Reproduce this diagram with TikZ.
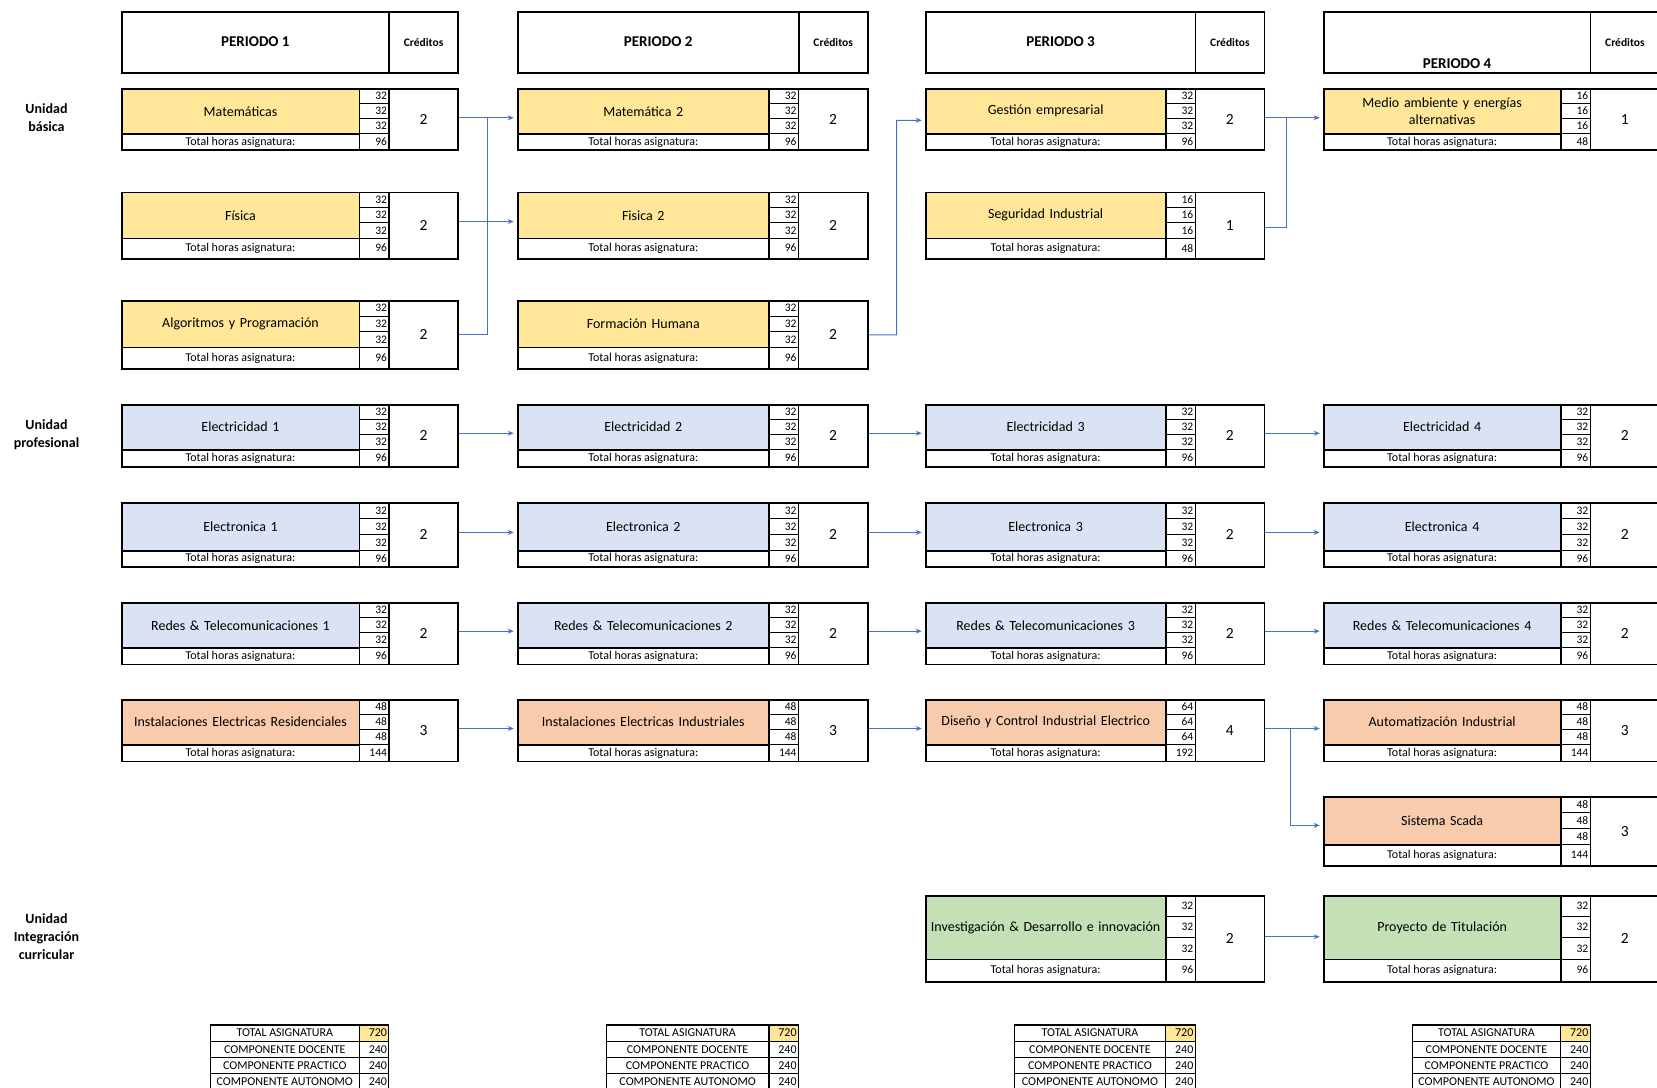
\documentclass[tikz,border=0pt]{standalone}
\usepackage{fontspec}
\setmainfont{Carlito}
\usetikzlibrary{arrows.meta,calc}
\definecolor{cyel}{HTML}{FFE699}
\definecolor{cblu}{HTML}{DAE3F3}
\definecolor{cora}{HTML}{F8CBAD}
\definecolor{cgrn}{HTML}{C5E0B4}
\definecolor{abl}{HTML}{4472C4}
% columns
\def\colXA{120.7}\def\colWA{238}
\def\colXB{516.7}\def\colWB{251.6}
\def\colXC{924.7}\def\colWC{240.3}
\def\colXD{1322.7}\def\colWD{237.3}
% rows: top, middle (title/total split), bottom
\def\rowTa{87.7}\def\rowMa{133.2}\def\rowBa{149}
\def\rowTb{191.5}\def\rowMb{237.5}\def\rowBb{257.8}
\def\rowTc{300}\def\rowMc{346.6}\def\rowBc{367.7}
\def\rowTd{403.7}\def\rowMd{449}\def\rowBd{466}
\def\rowTe{502}\def\rowMe{550}\def\rowBe{566}
\def\rowTf{602}\def\rowMf{647}\def\rowBf{663.5}
\def\rowTg{698.7}\def\rowMg{744}\def\rowBg{760.5}
\def\rowTh{796}\def\rowMh{844}\def\rowBh{865}
\def\rowTi{895}\def\rowMi{958.5}\def\rowBi{980.7}
\tikzset{
  tcell/.style={draw, line width=1.6pt, inner sep=0pt, align=center, font=\fontsize{14}{17}\selectfont},
  ncell/.style={draw, line width=1pt, inner sep=0pt, minimum width=29.5pt, text width=26pt, align=right, font=\fontsize{11.5}{13}\selectfont},
  lcell/.style={draw, line width=1.6pt, inner sep=0pt, font=\fontsize{12}{14}\selectfont},
  ccell/.style={draw, line width=1.6pt, inner sep=0pt, minimum width=69pt, font=\fontsize{15.5}{18}\selectfont},
  frame/.style={draw, line width=1.8pt, inner sep=0pt},
  hcell/.style={draw, line width=1.8pt, inner sep=0pt, font=\bfseries\fontsize{15}{18}\selectfont},
  hcred/.style={draw, line width=1.8pt, inner sep=0pt, minimum width=69pt, font=\bfseries\fontsize{11.5}{14}\selectfont},
  hlab/.style={inner sep=0pt, font=\bfseries\fontsize{15}{18}\selectfont},
  scell/.style={draw, line width=1.2pt, inner sep=0pt, minimum height=16.3pt, font=\fontsize{12}{14}\selectfont},
  snum/.style={draw, line width=1.2pt, inner sep=0pt, minimum height=16.3pt, minimum width=29.5pt, text width=26pt, align=right, font=\fontsize{12}{14}\selectfont},
  unit/.style={align=center, inner sep=0pt, font=\bfseries\fontsize{14}{18}\selectfont},
  arr/.style={draw=abl, line width=1pt, -{Stealth[length=6pt,width=5pt]}, shorten >=3pt},
  ln/.style={draw=abl, line width=1pt},
}
% #1 id, #2 column, #3 row, #4 title, #5 fill, #6 hours, #7 total, #8 credits
\newcommand{\course}[8]{%
  \pgfmathsetmacro{\qX}{\csname colX#2\endcsname}%
  \pgfmathsetmacro{\qW}{\csname colW#2\endcsname}%
  \pgfmathsetmacro{\qT}{\csname rowT#3\endcsname}%
  \pgfmathsetmacro{\qM}{\csname rowM#3\endcsname}%
  \pgfmathsetmacro{\qB}{\csname rowB#3\endcsname}%
  \pgfmathsetmacro{\qNX}{\qX+\qW}%
  \pgfmathsetmacro{\qCX}{\qNX+29.5}%
  \pgfmathsetmacro{\qFW}{\qW+29.5+69}%
  \pgfmathsetmacro{\qTH}{\qM-\qT}%
  \pgfmathsetmacro{\qLH}{\qB-\qM}%
  \pgfmathsetmacro{\qFH}{\qB-\qT}%
  \pgfmathsetmacro{\qRH}{\qTH/3}%
  \pgfmathsetmacro{\qTW}{\qW-6}%
  \pgfmathsetmacro{\qTb}{\qT+\qRH}%
  \pgfmathsetmacro{\qTc}{\qT+2*\qRH}%
  \node[tcell, fill=#5, minimum width=\qW pt, minimum height=\qTH pt, text width=\qTW pt, anchor=north west] (#1-t) at (\qX,\qT) {#4};
  \node[ncell, minimum height=\qRH pt, anchor=north west] (#1-n1) at (\qNX,\qT) {#6};
  \node[ncell, minimum height=\qRH pt, anchor=north west] (#1-n2) at (\qNX,\qTb) {#6};
  \node[ncell, minimum height=\qRH pt, anchor=north west] (#1-n3) at (\qNX,\qTc) {#6};
  \node[lcell, minimum width=\qW pt, minimum height=\qLH pt, anchor=north west] (#1-l) at (\qX,\qM) {Total horas asignatura:};
  \node[ncell, minimum height=\qLH pt, anchor=north west] (#1-s) at (\qNX,\qM) {#7};
  \node[ccell, minimum height=\qFH pt, anchor=north west] (#1-c) at (\qCX,\qT) {#8};
  \node[frame, minimum width=\qFW pt, minimum height=\qFH pt, anchor=north west] (#1) at (\qX,\qT) {};
}
% #1 id, #2 column, #3 label
\newcommand{\header}[3]{%
  \pgfmathsetmacro{\qX}{\csname colX#2\endcsname}%
  \pgfmathsetmacro{\qW}{\csname colW#2\endcsname+29.5}%
  \pgfmathsetmacro{\qCX}{\qX+\qW}%
  \node[hcell, minimum width=\qW pt, minimum height=61pt, anchor=north west] (#1) at (\qX,10.7) {#3};
  \node[hcred, minimum height=61pt, anchor=north west] (#1-c) at (\qCX,10.7) {Créditos};
}
% #1 id, #2 column
\newcommand{\summary}[2]{%
  \pgfmathsetmacro{\qX}{\csname colX#2\endcsname}%
  \pgfmathsetmacro{\qW}{\csname colW#2\endcsname}%
  \pgfmathsetmacro{\qL}{\qX+89}%
  \pgfmathsetmacro{\qLW}{\qW-89}%
  \pgfmathsetmacro{\qNX}{\qX+\qW}%
  \node[scell, minimum width=\qLW pt, anchor=north west] (#1-a) at (\qL,1024.3) {TOTAL ASIGNATURA};
  \node[snum, fill=cyel, anchor=north west] (#1-an) at (\qNX,1024.3) {720};
  \node[scell, minimum width=\qLW pt, anchor=north west] (#1-b) at (\qL,1040.6) {COMPONENTE DOCENTE};
  \node[snum, anchor=north west] (#1-bn) at (\qNX,1040.6) {240};
  \node[scell, minimum width=\qLW pt, anchor=north west] (#1-c) at (\qL,1056.9) {COMPONENTE PRACTICO};
  \node[snum, anchor=north west] (#1-cn) at (\qNX,1056.9) {240};
  \node[scell, minimum width=\qLW pt, anchor=north west] (#1-d) at (\qL,1073.2) {COMPONENTE AUTONOMO};
  \node[snum, anchor=north west] (#1-dn) at (\qNX,1073.2) {240};
}
\begin{document}
\begin{tikzpicture}[x=1pt,y=-1pt]
\useasboundingbox (0,0) rectangle (1657,1087);
\clip (0,0) rectangle (1657,1087);

% unit labels
\node[unit] (u1) at (46.5,118) {Unidad\\básica};
\node[unit] (u2) at (46.5,435) {Unidad\\profesional};
\node[unit] (u3) at (46.5,937) {Unidad\\Integración\\curricular};

% headers
\header{hA}{A}{PERIODO 1}
\header{hB}{B}{PERIODO 2}
\header{hC}{C}{PERIODO 3}
\header{hD}{D}{}
\node[hlab, anchor=base] (hD-l) at ($(hD.south)+(0,-5.5)$) {PERIODO 4};

% period 1
\course{mat}{A}{a}{Matemáticas}{cyel}{32}{96}{2}
\course{fis}{A}{b}{Física}{cyel}{32}{96}{2}
\course{alg}{A}{c}{Algoritmos y Programación}{cyel}{32}{96}{2}
\course{ea}{A}{d}{Electricidad 1}{cblu}{32}{96}{2}
\course{na}{A}{e}{Electronica 1}{cblu}{32}{96}{2}
\course{ra}{A}{f}{Redes \& Telecomunicaciones 1}{cblu}{32}{96}{2}
\course{ia}{A}{g}{Instalaciones Electricas Residenciales}{cora}{48}{144}{3}
% period 2
\course{mat2}{B}{a}{Matemática 2}{cyel}{32}{96}{2}
\course{fis2}{B}{b}{Fisica 2}{cyel}{32}{96}{2}
\course{fh}{B}{c}{Formación Humana}{cyel}{32}{96}{2}
\course{eb}{B}{d}{Electricidad 2}{cblu}{32}{96}{2}
\course{nb}{B}{e}{Electronica 2}{cblu}{32}{96}{2}
\course{rb}{B}{f}{Redes \& Telecomunicaciones 2}{cblu}{32}{96}{2}
\course{ib}{B}{g}{Instalaciones Electricas Industriales}{cora}{48}{144}{3}
% period 3
\course{ges}{C}{a}{Gestión empresarial}{cyel}{32}{96}{2}
\course{seg}{C}{b}{Seguridad Industrial}{cyel}{16}{48}{1}
\course{ec}{C}{d}{Electricidad 3}{cblu}{32}{96}{2}
\course{nc}{C}{e}{Electronica 3}{cblu}{32}{96}{2}
\course{rc}{C}{f}{Redes \& Telecomunicaciones 3}{cblu}{32}{96}{2}
\course{dis}{C}{g}{Diseño y Control Industrial Electrico}{cora}{64}{192}{4}
\course{inv}{C}{i}{Investigación \& Desarrollo e innovación}{cgrn}{32}{96}{2}
% period 4
\course{med}{D}{a}{Medio ambiente y energías\\alternativas}{cyel}{16}{48}{1}
\course{ed}{D}{d}{Electricidad 4}{cblu}{32}{96}{2}
\course{nd}{D}{e}{Electronica 4}{cblu}{32}{96}{2}
\course{rd}{D}{f}{Redes \& Telecomunicaciones 4}{cblu}{32}{96}{2}
\course{aut}{D}{g}{Automatización Industrial}{cora}{48}{144}{3}
\course{sca}{D}{h}{Sistema Scada}{cora}{48}{144}{3}
\course{pro}{D}{i}{Proyecto de Titulación}{cgrn}{32}{96}{2}

% summary tables
\summary{sA}{A}
\summary{sB}{B}
\summary{sC}{C}
\summary{sD}{D}

% connectors
\coordinate (j1) at ($(mat.east)!0.5!(mat2.west)$);
\coordinate (j2) at ($(mat2.east)!0.5!(ges.west)$);
\coordinate (j3) at ($(ges.east)!0.37!(med.west)$);
\coordinate (j4) at ($(dis.east)!0.44!(aut.west)$);
\draw[arr] ([yshift=1.5pt]mat.east) -- ([yshift=1.5pt]mat2.west);
\draw[arr] ([yshift=4pt]fis.east) -- ([yshift=4pt]fis2.west);
\draw[ln] (alg.east) -| ([yshift=1.5pt]j1);
\draw[arr] (fh.east) -| ([yshift=-1pt]j2) -- ([yshift=-1pt]ges.west);
\draw[arr] ([yshift=1.5pt]ges.east) -- ([yshift=1.5pt]med.west);
\draw[ln] ([yshift=-2pt]seg.east) -| ([yshift=1.5pt]j3);
\draw[arr] ([yshift=2.5pt]ea.east) -- ([yshift=2.5pt]eb.west);
\draw[arr] ([yshift=2.5pt]eb.east) -- ([yshift=2.5pt]ec.west);
\draw[arr] ([yshift=2.5pt]ec.east) -- ([yshift=2.5pt]ed.west);
\draw[arr] ([yshift=2.5pt]na.east) -- ([yshift=2.5pt]nb.west);
\draw[arr] ([yshift=2.5pt]nb.east) -- ([yshift=2.5pt]nc.west);
\draw[arr] ([yshift=2.5pt]nc.east) -- ([yshift=2.5pt]nd.west);
\draw[arr] ([yshift=2.5pt]ra.east) -- ([yshift=2.5pt]rb.west);
\draw[arr] ([yshift=2.5pt]rb.east) -- ([yshift=2.5pt]rc.west);
\draw[arr] ([yshift=2.5pt]rc.east) -- ([yshift=2.5pt]rd.west);
\draw[arr] ([yshift=2pt]ia.east) -- ([yshift=2pt]ib.west);
\draw[arr] ([yshift=2pt]ib.east) -- ([yshift=2pt]dis.west);
\draw[arr] ([yshift=2pt]dis.east) -- ([yshift=2pt]aut.west);
\draw[arr] ([yshift=2pt]j4) |- ([yshift=6pt]sca.west);
\draw[arr] ([yshift=2pt]inv.east) -- ([yshift=2pt]pro.west);
\end{tikzpicture}
\end{document}
